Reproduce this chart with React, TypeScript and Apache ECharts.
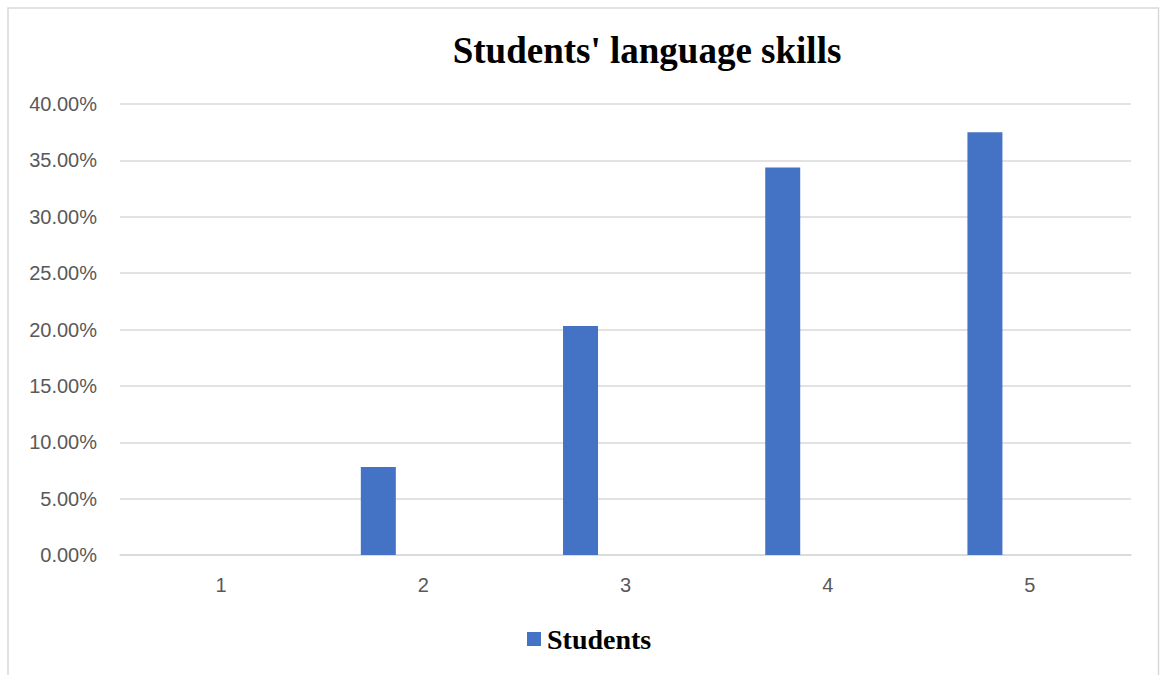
import React, { useEffect, useRef } from "react";
import * as echarts from "echarts";

const categories = ["1", "2", "3", "4", "5"];
const studentsValues = [0, 7.8125, 20.3125, 34.375, 37.5];
const emptySeriesValues = [null, null, null, null, null];
const yTicks = [0, 5, 10, 15, 20, 25, 30, 35, 40];

export default function App() {
  const ref = useRef<HTMLDivElement>(null);
  useEffect(() => {
    if (!ref.current) return;
    const chart = echarts.init(ref.current, null, { renderer: "svg" });
    chart.setOption({
      animation: false,
      backgroundColor: "#ffffff",
      title: {
        text: "Students' language skills",
        left: 642,
        textAlign: "center",
        top: 27,
        textStyle: {
          fontFamily: "Liberation Serif",
          fontWeight: "bold",
          fontSize: 37,
          color: "#000000",
        },
      },
      graphic: [
        {
          type: "rect",
          shape: { x: 8, y: 8, width: 1150.5, height: 720 },
          style: { fill: "none", stroke: "#d9d9d9", lineWidth: 1.5 },
          silent: true,
        },
      ],
      legend: {
        data: ["Students"],
        left: 527,
        top: 625,
        padding: 0,
        itemWidth: 14,
        itemHeight: 14,
        icon: "rect",
        textStyle: {
          fontFamily: "Liberation Serif",
          fontWeight: "bold",
          fontSize: 28,
          color: "#000000",
          padding: [0, 0, 0, 1],
        },
      },
      grid: { left: 120, right: 29, top: 104, bottom: 120, containLabel: false },
      xAxis: {
        type: "category",
        data: categories,
        axisLine: { show: true, lineStyle: { color: "#d9d9d9", width: 1.5 } },
        axisTick: { show: false },
        axisLabel: {
          fontFamily: "Liberation Sans",
          fontSize: 20,
          color: "#595959",
          margin: 20,
        },
      },
      yAxis: {
        type: "value",
        min: yTicks[0],
        max: yTicks[yTicks.length - 1],
        interval: 5,
        axisLine: { show: false },
        axisTick: { show: false },
        splitLine: { lineStyle: { color: "#d9d9d9", width: 1.5 } },
        axisLabel: {
          fontFamily: "Liberation Sans",
          fontSize: 20,
          color: "#595959",
          margin: 23,
          formatter: (v: number) => v.toFixed(2) + "%",
        },
      },
      series: [
        {
          name: "Students",
          type: "bar",
          data: studentsValues,
          barWidth: 35,
          barGap: "157%",
          itemStyle: { color: "#4472c4" },
        },
        {
          name: "Other",
          type: "bar",
          data: emptySeriesValues,
          barWidth: 35,
          itemStyle: { color: "#ed7d31" },
        },
      ],
    });
    return () => chart.dispose();
  }, []);
  return (
    <div
      ref={ref}
      style={{ position: "fixed", left: 0, top: 0, width: 1160, height: 675 }}
    />
  );
}
